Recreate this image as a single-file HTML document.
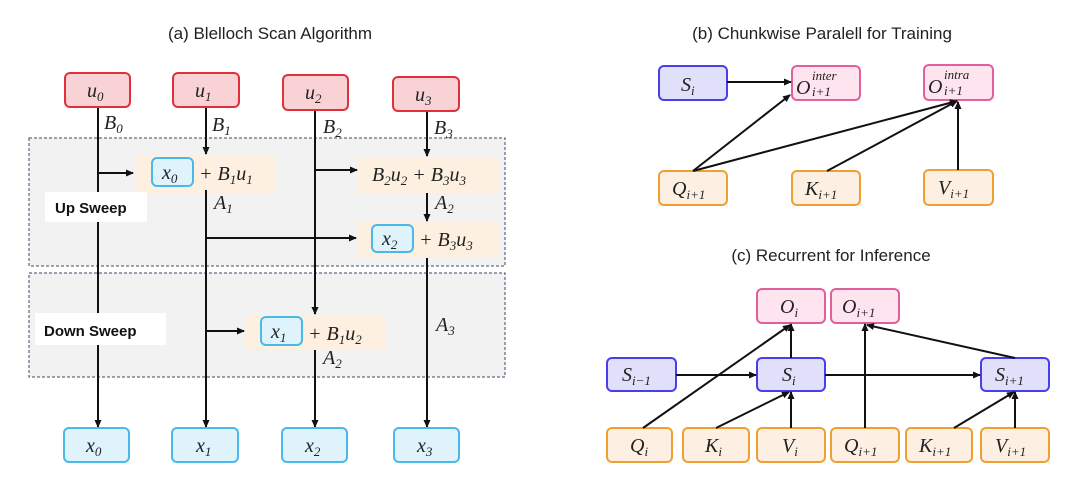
<!DOCTYPE html>
<html><head><meta charset="utf-8"><style>
body{margin:0;background:#fff}
svg{display:block}
.t{font-family:"Liberation Sans",sans-serif;font-size:17px;fill:#222}
.m{font-family:"Liberation Serif",serif;font-style:italic;font-size:20px;fill:#222}
.s{font-size:13px}
.b{font-family:"Liberation Sans",sans-serif;font-weight:bold;font-size:15px;fill:#111}
line{stroke:#111;stroke-width:2;fill:none}
</style></head><body>
<svg width="1080" height="493" viewBox="0 0 1080 493" xmlns="http://www.w3.org/2000/svg">
<defs><marker id="a" markerWidth="8" markerHeight="8" refX="7" refY="4" orient="auto" markerUnits="userSpaceOnUse"><path d="M0,0.5 L8,4 L0,7.5z" fill="#111"/></marker></defs>
<text class="t" x="270" y="39" text-anchor="middle">(a) Blelloch Scan Algorithm</text>
<text class="t" x="822" y="39" text-anchor="middle">(b) Chunkwise Paralell for Training</text>
<text class="t" x="831" y="261" text-anchor="middle">(c) Recurrent for Inference</text>

<rect x="29" y="138" width="476" height="128" fill="#f2f2f2" stroke="#3a4a6a" stroke-dasharray="3,2"/>
<rect x="29" y="273" width="476" height="104" fill="#f2f2f2" stroke="#3a4a6a" stroke-dasharray="3,2"/>
<rect x="135" y="155" width="140" height="38" fill="#fdf0e0"/>
<rect x="357" y="157" width="143" height="36" fill="#fdf0e0"/>
<rect x="357" y="222" width="143" height="36" fill="#fdf0e0"/>
<rect x="245" y="315" width="140" height="35" fill="#fdf0e0"/>

<line x1="98" y1="107" x2="98" y2="192"/><line x1="98" y1="222" x2="98" y2="313"/><line x1="98" y1="345" x2="98" y2="427" marker-end="url(#a)"/>
<line x1="206" y1="107" x2="206" y2="154" marker-end="url(#a)"/>
<line x1="206" y1="190" x2="206" y2="427" marker-end="url(#a)"/>
<line x1="315" y1="110" x2="315" y2="314" marker-end="url(#a)"/>
<line x1="315" y1="350" x2="315" y2="427" marker-end="url(#a)"/>
<line x1="427" y1="111" x2="427" y2="156" marker-end="url(#a)"/>
<line x1="427" y1="193" x2="427" y2="221" marker-end="url(#a)"/>
<line x1="427" y1="258" x2="427" y2="427" marker-end="url(#a)"/>
<line x1="98" y1="173" x2="133" y2="173" marker-end="url(#a)"/>
<line x1="315" y1="170" x2="357" y2="170" marker-end="url(#a)"/>
<line x1="206" y1="238" x2="356" y2="238" marker-end="url(#a)"/>
<line x1="206" y1="331" x2="244" y2="331" marker-end="url(#a)"/>

<rect x="45" y="192" width="102" height="30" fill="#fff"/><text class="b" x="55" y="213">Up Sweep</text>
<rect x="35" y="313" width="131" height="32" fill="#fff"/><text class="b" x="44" y="336">Down Sweep</text>

<g fill="#f9d2d6" stroke="#e0303c" stroke-width="2">
<rect x="65" y="73" width="65" height="34" rx="5"/><rect x="173" y="73" width="66" height="34" rx="5"/>
<rect x="283" y="75" width="65" height="35" rx="5"/><rect x="393" y="77" width="66" height="34" rx="5"/></g>
<text class="m" x="87" y="97">u<tspan class="s" dy="4">0</tspan></text>
<text class="m" x="195" y="97">u<tspan class="s" dy="4">1</tspan></text>
<text class="m" x="305" y="99">u<tspan class="s" dy="4">2</tspan></text>
<text class="m" x="415" y="101">u<tspan class="s" dy="4">3</tspan></text>
<text class="m" x="104" y="129">B<tspan class="s" dy="4">0</tspan></text>
<text class="m" x="212" y="131">B<tspan class="s" dy="4">1</tspan></text>
<text class="m" x="323" y="133">B<tspan class="s" dy="4">2</tspan></text>
<text class="m" x="434" y="134">B<tspan class="s" dy="4">3</tspan></text>
<text class="m" x="214" y="209">A<tspan class="s" dy="4">1</tspan></text>
<text class="m" x="435" y="209">A<tspan class="s" dy="4">2</tspan></text>
<text class="m" x="323" y="364">A<tspan class="s" dy="4">2</tspan></text>
<text class="m" x="436" y="331">A<tspan class="s" dy="4">3</tspan></text>

<g fill="#dff3fc" stroke="#4ab8e8" stroke-width="2">
<rect x="152" y="158" width="41" height="28" rx="5"/><rect x="372" y="225" width="41" height="27" rx="5"/>
<rect x="261" y="317" width="41" height="28" rx="5"/>
<rect x="64" y="428" width="65" height="34" rx="5"/><rect x="172" y="428" width="66" height="34" rx="5"/>
<rect x="282" y="428" width="65" height="34" rx="5"/><rect x="394" y="428" width="65" height="34" rx="5"/></g>
<text class="m" x="162" y="179">x<tspan class="s" dy="4">0</tspan></text>
<text class="m" x="199" y="180">+ B<tspan class="s" dy="4">1</tspan><tspan dy="-4">u</tspan><tspan class="s" dy="4">1</tspan></text>
<text class="m" x="372" y="181">B<tspan class="s" dy="4">2</tspan><tspan dy="-4">u</tspan><tspan class="s" dy="4">2</tspan><tspan dy="-4"> + B</tspan><tspan class="s" dy="4">3</tspan><tspan dy="-4">u</tspan><tspan class="s" dy="4">3</tspan></text>
<text class="m" x="382" y="245">x<tspan class="s" dy="4">2</tspan></text>
<text class="m" x="419" y="246">+ B<tspan class="s" dy="4">3</tspan><tspan dy="-4">u</tspan><tspan class="s" dy="4">3</tspan></text>
<text class="m" x="271" y="338">x<tspan class="s" dy="4">1</tspan></text>
<text class="m" x="308" y="340">+ B<tspan class="s" dy="4">1</tspan><tspan dy="-4">u</tspan><tspan class="s" dy="4">2</tspan></text>
<text class="m" x="86" y="452">x<tspan class="s" dy="4">0</tspan></text>
<text class="m" x="196" y="452">x<tspan class="s" dy="4">1</tspan></text>
<text class="m" x="305" y="452">x<tspan class="s" dy="4">2</tspan></text>
<text class="m" x="417" y="452">x<tspan class="s" dy="4">3</tspan></text>

<g stroke-width="2">
<rect x="659" y="66" width="68" height="34" rx="5" fill="#e0e0fb" stroke="#4a3ee8"/>
<rect x="792" y="66" width="68" height="34" rx="5" fill="#fde4ef" stroke="#e0609c"/>
<rect x="924" y="65" width="69" height="35" rx="5" fill="#fde4ef" stroke="#e0609c"/>
<g fill="#fdf0e3" stroke="#f0a030">
<rect x="659" y="171" width="68" height="34" rx="5"/><rect x="792" y="171" width="68" height="34" rx="5"/><rect x="924" y="170" width="69" height="35" rx="5"/></g></g>
<text class="m" x="681" y="91">S<tspan class="s" dy="4">i</tspan></text>
<text class="m" x="796" y="94">O</text><text class="m s" x="812" y="80">inter</text><text class="m s" x="812" y="96">i+1</text>
<text class="m" x="928" y="93">O</text><text class="m s" x="944" y="79">intra</text><text class="m s" x="944" y="95">i+1</text>
<text class="m" x="672" y="195">Q<tspan class="s" dy="4">i+1</tspan></text>
<text class="m" x="805" y="195">K<tspan class="s" dy="4">i+1</tspan></text>
<text class="m" x="938" y="194">V<tspan class="s" dy="4">i+1</tspan></text>
<line x1="727" y1="82" x2="791" y2="82" marker-end="url(#a)"/>
<line x1="693" y1="171" x2="790" y2="95" marker-end="url(#a)"/>
<line x1="693" y1="171" x2="957" y2="101" marker-end="url(#a)"/>
<line x1="827" y1="171" x2="957" y2="101" marker-end="url(#a)"/>
<line x1="958" y1="170" x2="958" y2="102" marker-end="url(#a)"/>

<g stroke-width="2">
<g fill="#fde4ef" stroke="#e0609c"><rect x="757" y="289" width="68" height="34" rx="5"/><rect x="831" y="289" width="68" height="34" rx="5"/></g>
<g fill="#e0e0fb" stroke="#4a3ee8"><rect x="607" y="358" width="69" height="33" rx="5"/><rect x="757" y="358" width="68" height="33" rx="5"/><rect x="981" y="358" width="68" height="33" rx="5"/></g>
<g fill="#fdf0e3" stroke="#f0a030">
<rect x="607" y="428" width="65" height="34" rx="5"/><rect x="683" y="428" width="66" height="34" rx="5"/><rect x="757" y="428" width="68" height="34" rx="5"/>
<rect x="831" y="428" width="68" height="34" rx="5"/><rect x="906" y="428" width="66" height="34" rx="5"/><rect x="981" y="428" width="68" height="34" rx="5"/></g></g>
<text class="m" x="780" y="313">O<tspan class="s" dy="4">i</tspan></text>
<text class="m" x="842" y="313">O<tspan class="s" dy="4">i+1</tspan></text>
<text class="m" x="622" y="381">S<tspan class="s" dy="4">i−1</tspan></text>
<text class="m" x="782" y="381">S<tspan class="s" dy="4">i</tspan></text>
<text class="m" x="995" y="381">S<tspan class="s" dy="4">i+1</tspan></text>
<text class="m" x="630" y="452">Q<tspan class="s" dy="4">i</tspan></text>
<text class="m" x="705" y="452">K<tspan class="s" dy="4">i</tspan></text>
<text class="m" x="782" y="452">V<tspan class="s" dy="4">i</tspan></text>
<text class="m" x="844" y="452">Q<tspan class="s" dy="4">i+1</tspan></text>
<text class="m" x="919" y="452">K<tspan class="s" dy="4">i+1</tspan></text>
<text class="m" x="995" y="452">V<tspan class="s" dy="4">i+1</tspan></text>
<line x1="676" y1="375" x2="756" y2="375" marker-end="url(#a)"/>
<line x1="825" y1="375" x2="980" y2="375" marker-end="url(#a)"/>
<line x1="791" y1="358" x2="791" y2="324" marker-end="url(#a)"/>
<line x1="643" y1="428" x2="790" y2="325" marker-end="url(#a)"/>
<line x1="716" y1="428" x2="789" y2="392" marker-end="url(#a)"/>
<line x1="791" y1="428" x2="791" y2="392" marker-end="url(#a)"/>
<line x1="865" y1="428" x2="865" y2="324" marker-end="url(#a)"/>
<line x1="1015" y1="358" x2="867" y2="325" marker-end="url(#a)"/>
<line x1="954" y1="428" x2="1014" y2="392" marker-end="url(#a)"/>
<line x1="1015" y1="428" x2="1015" y2="392" marker-end="url(#a)"/>
</svg>
</body></html>
